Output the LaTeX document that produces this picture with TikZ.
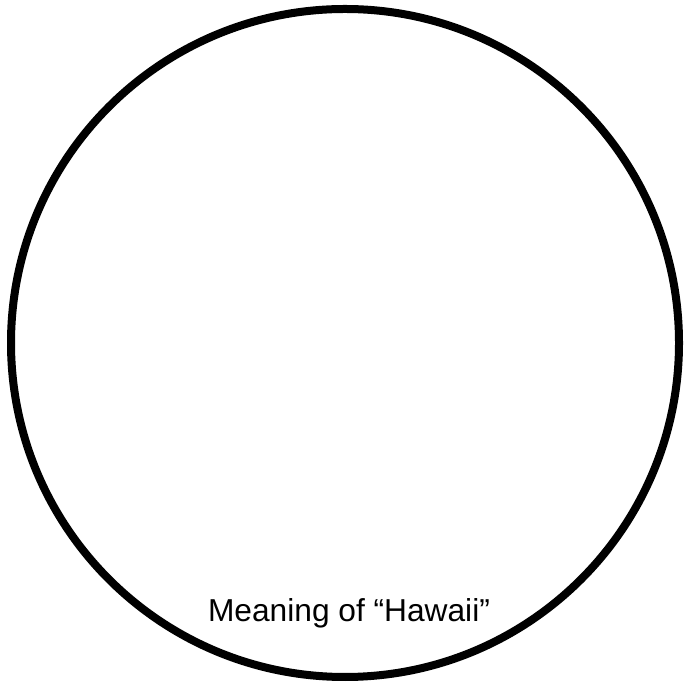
\documentclass[tikz,border=0pt]{standalone}
\usepackage{fontspec}
\setmainfont{Liberation Sans}
\begin{document}
\begin{tikzpicture}[x=1pt,y=1pt,
  ring/.style={draw=black,line width=8pt},
  caption/.style={font=\fontsize{31.7}{36}\selectfont,anchor=base,inner sep=0pt}]
\useasboundingbox (0,0) rectangle (683,684);
\node[ring,circle,minimum size=668pt,inner sep=0pt] (c) at (345,341) {};
\node[caption] (t) at (349,62) {Meaning of “Hawaii”};
\end{tikzpicture}
\end{document}
